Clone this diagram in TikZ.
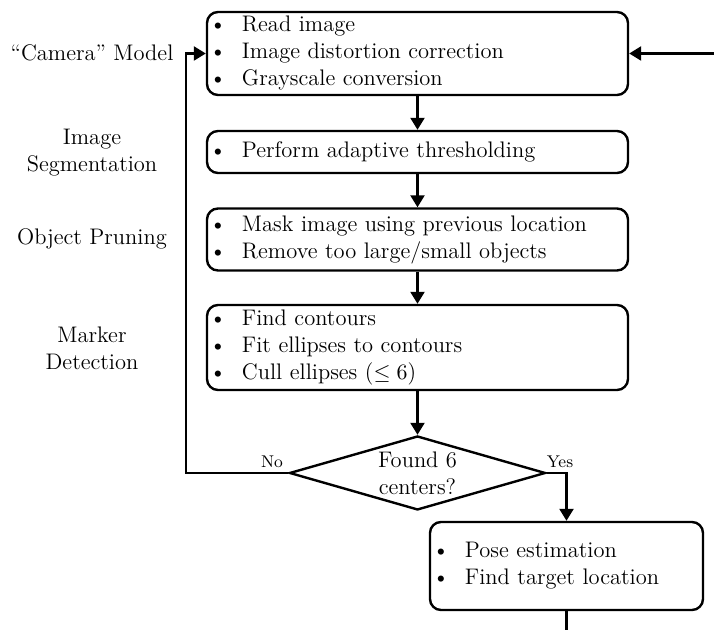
\documentclass[tikz,border=0pt]{standalone}
\usetikzlibrary{arrows.meta,shapes.geometric}

% one bullet line inside a process box
\newcommand{\itm}[1]{\hspace*{1.2pt}\makebox[16.3pt][l]{\textbullet}#1\strut}

\begin{document}
\begin{tikzpicture}[x=0.5pt,y=-0.5pt,
  every node/.style={font=\fontsize{11.25}{13.5}\selectfont},
  procbox/.style={draw, rounded corners=5.5pt, line width=1.2pt,
    inner sep=0pt, align=left},
  stagelabel/.style={align=center, inner sep=0pt},
  decision/.style={draw, diamond, line width=1.2pt, inner sep=0pt,
    minimum width=128pt, minimum height=37pt},
  branch/.style={inner sep=0pt, font=\fontsize{8.5}{10}\selectfont},
  flow/.style={line width=1.2pt, -{Triangle[length=6pt,width=7pt]}},
  plain/.style={line width=1.2pt}
]
\useasboundingbox (0,0) rectangle (714,630);

% processing stages
\node[procbox, text width=210.5pt, minimum height=41.5pt] (b1) at (417.5,53.5)
  {\itm{Read image}\\ \itm{Image distortion correction}\\ \itm{Grayscale conversion}};
\node[procbox, text width=210.5pt, minimum height=21pt] (b2) at (417.5,152)
  {\itm{Perform adaptive thresholding}};
\node[procbox, text width=210.5pt, minimum height=31pt] (b3) at (417.5,239.5)
  {\itm{Mask image using previous location}\\ \itm{Remove too large/small objects}};
\node[procbox, text width=210.5pt, minimum height=42.5pt] (b4) at (417.5,347.5)
  {\itm{Find contours}\\ \itm{Fit ellipses to contours}\\ \itm{Cull ellipses ($\leq 6$)}};
\node[decision, label={[align=center]center:Found 6\\centers?}] (d) at (417.5,473) {};
\node[procbox, text width=136.5pt, minimum height=44pt] (b5) at (566.5,566)
  {\itm{Pose estimation}\\ \itm{Find target location}};

% stage names
\node[stagelabel] (l1) at (92,53) {\textquotedblleft Camera\textquotedblright\ Model};
\node[stagelabel] (l2) at (92,153) {Image\\Segmentation};
\node[stagelabel] (l3) at (92,239) {Object Pruning};
\node[stagelabel] (l4) at (92,348) {Marker\\Detection};

% branch labels
\node[branch] (no) at (272,462) {No};
\node[branch] (yes) at (560,462) {Yes};

% connectors
\coordinate (in) at (714,53.5);
\coordinate (fb) at (186,473);
\coordinate (out) at (566.5,630);
\draw[flow] (in) -- (b1.east);
\draw[flow] (b1.south) -- (b2.north);
\draw[flow] (b2.south) -- (b3.north);
\draw[flow] (b3.south) -- (b4.north);
\draw[flow] (b4.south) -- (d.north);
\draw[flow] (d.east) -| (b5.north);
\draw[flow] (d.west) -- (fb) |- (b1.west);
\draw[plain] (b5.south) -- (out);
\end{tikzpicture}
\end{document}
